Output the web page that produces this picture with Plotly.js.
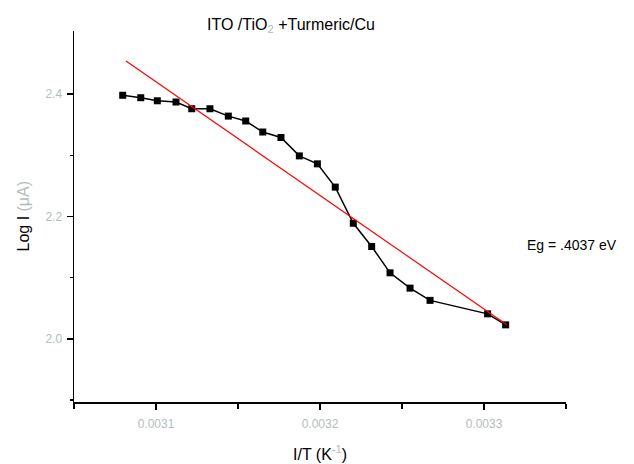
<!DOCTYPE html>
<html>
<head>
<meta charset="utf-8">
<script src="https://cdn.plot.ly/plotly-3.0.1.min.js"></script>
<style>html,body{margin:0;padding:0;background:#fff;}#chart{width:634px;height:464px;}</style>
</head>
<body>
<div id="chart"></div>
<script>
// Measured data (1/T in K^-1, Log I)
const invT = [0.0030797, 0.0030907, 0.0031008, 0.0031122, 0.0031218, 0.0031329, 0.0031441, 0.0031547,
              0.0031651, 0.0031762, 0.0031874, 0.0031984, 0.0032093, 0.0032203, 0.0032315, 0.0032427,
              0.0032549, 0.0032671, 0.0033022, 0.0033132];
const logI = [2.398, 2.394, 2.389, 2.387, 2.376, 2.376, 2.364, 2.356,
              2.338, 2.329, 2.299, 2.286, 2.248, 2.189, 2.151, 2.108,
              2.083, 2.063, 2.041, 2.023];
// Linear fit line endpoints
const fitX = [0.0030817, 0.0033139];
const fitY = [2.454, 2.023];
const xTicks = [0.0031, 0.0032, 0.0033];
const xTickText = ['0.0031', '0.0032', '0.0033'];
const yTicks = [2.0, 2.2, 2.4];
const yTickText = ['2.0', '2.2', '2.4'];

const traces = [
  {x: invT, y: logI, mode: 'lines+markers', type: 'scatter',
   line: {color: '#000', width: 1.5},
   marker: {symbol: 'square', size: 7, color: '#000'}},
  {x: fitX, y: fitY, mode: 'lines', type: 'scatter',
   line: {color: '#ff0000', width: 1.2}}
];

const gray = '#b4bcbc';
const layout = {
  width: 634, height: 464,
  margin: {l: 74, r: 68, t: 31, b: 62},
  paper_bgcolor: '#fff', plot_bgcolor: '#fff',
  showlegend: false,
  font: {family: 'Liberation Sans, Arial, sans-serif', color: '#000'},
  title: {text: 'ITO /TiO<span style="color:' + gray + '"><sub>2</sub></span> +Turmeric/Cu',
          font: {size: 16, color: '#000'},
          xref: 'container', yref: 'container', x: 291/634, y: 1 - 24/464,
          xanchor: 'center', yanchor: 'middle'},
  xaxis: {
    range: [0.00305, 0.00335], showgrid: false, zeroline: false,
    showline: true, linecolor: '#000', linewidth: 1.5,
    ticks: 'outside', ticklen: 6, tickwidth: 1.5, tickcolor: '#000',
    tickvals: xTicks, ticktext: xTickText,
    tickfont: {size: 12, color: gray}, ticklabelstandoff: 4,
    minor: {tickvals: [0.00305, 0.00315, 0.00325, 0.00335], ticks: 'outside', ticklen: 5, tickwidth: 1.5, tickcolor: '#000'}
  },
  yaxis: {
    range: [1.897, 2.503], showgrid: false, zeroline: false,
    showline: true, linecolor: '#000', linewidth: 1.5,
    ticks: 'outside', ticklen: 6, tickwidth: 1.5, tickcolor: '#000',
    tickvals: yTicks, ticktext: yTickText,
    tickfont: {size: 12, color: gray}, ticklabelstandoff: 2,
    minor: {tickvals: [1.9, 2.1, 2.3], ticks: 'outside', ticklen: 3, tickwidth: 1.5, tickcolor: '#000'}
  },
  annotations: [
    {text: 'I/T (K<span style="color:' + gray + '"><sup>-1</sup></span>)', xref: 'paper', yref: 'paper',
     x: 0.5, y: (402-453)/371, xanchor: 'center', yanchor: 'middle', showarrow: false,
     font: {size: 16, color: '#000'}},
    {text: 'Log I <span style="color:' + gray + '">(μA)</span>', xref: 'paper', yref: 'paper',
     x: (23-74)/492, y: 0.5, xanchor: 'center', yanchor: 'middle', textangle: -90, showarrow: false,
     font: {size: 16, color: '#000'}},
    {text: 'Eg = .4037 eV', xref: 'paper', yref: 'paper', x: (525-74)/492, y: (402-245)/371,
     xanchor: 'left', yanchor: 'middle', showarrow: false, font: {size: 14, color: '#000'}}
  ]
};

Plotly.newPlot('chart', traces, layout, {displayModeBar: false, staticPlot: true});
</script>
</body>
</html>
